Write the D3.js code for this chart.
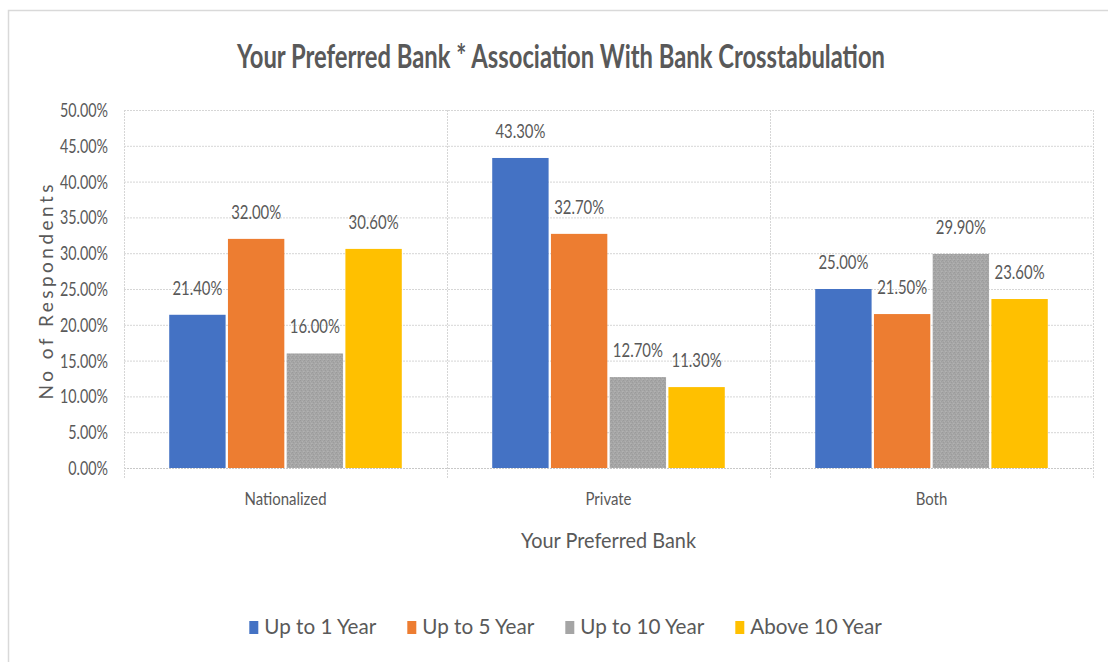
<!DOCTYPE html>
<html>
<head>
<meta charset="utf-8">
<script src="https://cdn.jsdelivr.net/npm/d3@7"></script>
<style>
  html, body { margin: 0; padding: 0; background: #fff; }
  svg { display: block; }
  text { font-family: Lato, "Open Sans", "Liberation Sans", sans-serif; fill: #595959; }
</style>
</head>
<body>
<svg id="chart" width="1108" height="662"></svg>
<script>
// Chart values (percent of respondents)
const categories = ["Nationalized", "Private", "Both"];
const seriesNames = ["Up to 1 Year", "Up to 5 Year", "Up to 10 Year", "Above 10 Year"];
const upTo1Year = [21.4, 43.3, 25.0];
const upTo5Year = [32.0, 32.7, 21.5];
const upTo10Year = [16.0, 12.7, 29.9];
const above10Year = [30.6, 11.3, 23.6];
const yTickValues = [0, 5, 10, 15, 20, 25, 30, 35, 40, 45, 50];

const seriesValues = [upTo1Year, upTo5Year, upTo10Year, above10Year];
const seriesColors = ["#4472c4", "#ed7d31", "url(#grayTexture)", "#ffc000"];
const legendColors = ["#4472c4", "#ed7d31", "#a5a5a5", "#ffc000"];

const svg = d3.select("#chart");
const W = 1108, H = 662;
const plot = { left: 124, right: 1093, top: 110, bottom: 468 };

// Horizontally condense text to a given width (keeps the narrow look of the labels)
function condense(sel, refWidth, refNode) {
  const node = refNode || sel.node();
  const f = refWidth / node.getComputedTextLength();
  sel.each(function () {
    const w = this.getComputedTextLength();
    this.setAttribute("textLength", (w * f).toFixed(2));
    this.setAttribute("lengthAdjust", "spacingAndGlyphs");
  });
}

// Gray bar texture
const defs = svg.append("defs");
const pat = defs.append("pattern")
  .attr("id", "grayTexture").attr("patternUnits", "userSpaceOnUse")
  .attr("width", 4).attr("height", 4);
pat.append("rect").attr("width", 4).attr("height", 4).attr("fill", "#a6a6a6");
[[0, 0, "#9a9a9a"], [2, 1, "#b0b0b0"], [1, 2, "#9c9c9c"], [3, 3, "#b2b2b2"], [3, 1, "#a0a0a0"], [0, 3, "#adadad"]]
  .forEach(([x, y, c]) => pat.append("rect").attr("x", x).attr("y", y).attr("width", 1).attr("height", 1).attr("fill", c));

// Chart area border
svg.append("rect")
  .attr("x", 8.5).attr("y", 10.5).attr("width", W + 20).attr("height", H + 20)
  .attr("fill", "#fff").attr("stroke", "#d9d9d9").attr("stroke-width", 1.5);

// Scales
const x0 = d3.scaleBand().domain(categories).range([plot.left, plot.right]).padding(0);
const x1 = d3.scaleBand().domain(seriesNames).range([0, x0.bandwidth()])
  .paddingInner(0.04).paddingOuter(0.77);
const y = d3.scaleLinear().domain([0, 50]).range([plot.bottom, plot.top]);

// Horizontal gridlines
svg.append("g").selectAll("line").data(yTickValues).join("line")
  .attr("x1", plot.left).attr("x2", plot.right)
  .attr("y1", d => y(d) + 0.5).attr("y2", d => y(d) + 0.5)
  .attr("stroke", d => d === 0 ? "#c8c8c8" : "#d6d6d6")
  .attr("stroke-width", 1)
  .attr("stroke-dasharray", "2,1");

// Vertical category separators (with tick extension below the axis)
const sepX = categories.map(c => x0(c)).concat([plot.right]);
svg.append("g").selectAll("line").data(sepX).join("line")
  .attr("x1", d => Math.round(d) + 0.5).attr("x2", d => Math.round(d) + 0.5)
  .attr("y1", plot.top).attr("y2", plot.bottom + 10)
  .attr("stroke", "#d6d6d6").attr("stroke-width", 1)
  .attr("stroke-dasharray", "2,1");

// Bars
const groups = svg.append("g").selectAll("g").data(categories).join("g")
  .attr("transform", c => `translate(${x0(c)},0)`);

const barData = (c, ci) => seriesNames.map((s, si) => ({ s, si, v: seriesValues[si][ci] }));

groups.selectAll("rect").data((c, ci) => barData(c, ci)).join("rect")
  .attr("x", d => x1(d.s))
  .attr("width", x1.bandwidth())
  .attr("y", d => y(d.v))
  .attr("height", d => y(0) - y(d.v))
  .attr("fill", d => seriesColors[d.si]);

// Data labels
const dataLabels = groups.selectAll("text").data((c, ci) => barData(c, ci)).join("text")
  .attr("x", d => x1(d.s) + x1.bandwidth() / 2)
  .attr("y", d => y(d.v) - 20)
  .attr("text-anchor", "middle")
  .attr("font-size", 18.5)
  .text(d => d.v.toFixed(2) + "%");
condense(dataLabels, 50, dataLabels.filter(d => d.v === 43.3).node());

// Y axis tick labels
const yLabels = svg.append("g").selectAll("text").data(yTickValues).join("text")
  .attr("x", 108)
  .attr("y", d => y(d) + 7)
  .attr("text-anchor", "end")
  .attr("font-size", 19.5)
  .text(d => d.toFixed(2) + "%");
condense(yLabels, 48, yLabels.filter(d => d === 50).node());

// Category labels
const catLabels = svg.append("g").selectAll("text").data(categories).join("text")
  .attr("x", c => x0(c) + x0.bandwidth() / 2)
  .attr("y", 505)
  .attr("text-anchor", "middle")
  .attr("font-size", 18)
  .text(c => c);
condense(catLabels, 46, catLabels.filter(c => c === "Private").node());

// Axis titles
const xTitle = svg.append("text")
  .attr("x", (plot.left + plot.right) / 2)
  .attr("y", 548)
  .attr("text-anchor", "middle")
  .attr("font-size", 21)
  .text("Your Preferred Bank");
condense(xTitle, 175);

svg.append("text")
  .attr("transform", "translate(53,292) rotate(-90)")
  .attr("text-anchor", "middle")
  .attr("font-size", 19)
  .attr("textLength", 215)
  .attr("lengthAdjust", "spacing")
  .text("No of Respondents");

// Title
const title = svg.append("text")
  .attr("x", 561)
  .attr("y", 68)
  .attr("text-anchor", "middle")
  .attr("font-size", 32)
  .attr("font-weight", "bold")
  .text("Your Preferred Bank * Association With Bank Crosstabulation");
condense(title, 648);

// Legend
const legend = svg.append("g");
const items = legend.selectAll("g").data(seriesNames).join("g");
items.append("rect")
  .attr("width", 9).attr("height", 13)
  .attr("y", -13)
  .attr("fill", (d, i) => legendColors[i]);
const legendText = items.append("text")
  .attr("x", 15)
  .attr("font-size", 22)
  .text(d => d);
condense(legendText, 112, legendText.filter(d => d === "Up to 1 Year").node());

let cursor = 0;
items.each(function () {
  const t = d3.select(this).select("text").node();
  const w = +t.getAttribute("textLength");
  d3.select(this).attr("transform", `translate(${cursor},0)`);
  cursor += 15 + w + 31;
});
const legendWidth = cursor - 31;
legend.attr("transform", `translate(${565.5 - legendWidth / 2},634)`);
</script>
</body>
</html>
